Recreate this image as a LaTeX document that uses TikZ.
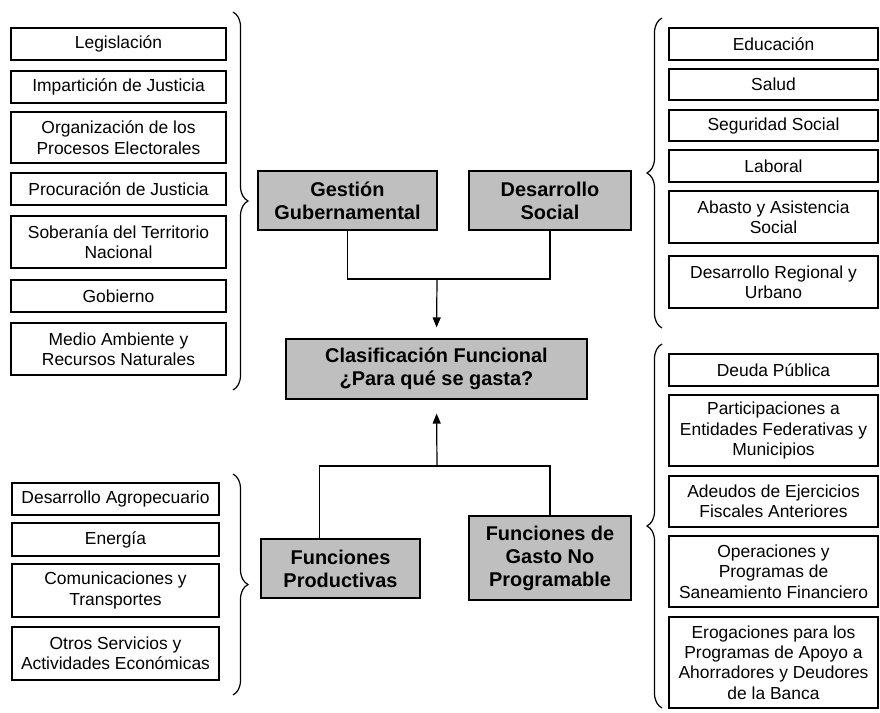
\documentclass[tikz,border=0pt]{standalone}
\usepackage{fontspec}
\setmainfont{Liberation Sans}
\usetikzlibrary{arrows.meta}
\usetikzlibrary{decorations.pathreplacing}

\begin{document}
\begin{tikzpicture}[x=1bp, y=-1bp, line width=1.2bp,
  item/.style={draw, fill=white, inner sep=0pt, align=center, font=\fontsize{17.5}{20.5}\selectfont},
  izq/.style={item, minimum width=215bp},
  izqb/.style={item, minimum width=207bp},
  der/.style={item, minimum width=209bp},
  rubro/.style={draw, fill=black!25, inner sep=0pt, align=center, font=\fontsize{20}{23}\selectfont\bfseries},
  llave/.style={decorate, decoration={brace, amplitude=15bp}}]
\useasboundingbox (0,0) rectangle (880,713);

\node (leg) at (118.5,44) [izq, minimum height=32bp] {Legislación};
\node (imp) at (118.5,87) [izq, minimum height=32bp] {Impartición de Justicia};
\node (org) at (118.5,137.5) [izq, minimum height=51bp] {Organización de los\\Procesos Electorales};
\node (pro) at (118.5,189) [izq, minimum height=32bp] {Procuración de Justicia};
\node (sob) at (118.5,242) [izq, minimum height=52bp] {Soberanía del Territorio\\Nacional};
\node (gob) at (118.5,296) [izq, minimum height=32bp] {Gobierno};
\node (med) at (118.5,349) [izq, minimum height=52bp] {Medio Ambiente y\\Recursos Naturales};
\draw[llave] (233,12) -- (233,390);

\node (edu) at (773.5,44) [der, minimum height=32bp] {Educación};
\node (sal) at (773.5,84.5) [der, minimum height=31bp] {Salud};
\node (seg) at (773.5,125.5) [der, minimum height=31bp] {Seguridad Social};
\node (lab) at (773.5,166) [der, minimum height=32bp] {Laboral};
\node (aba) at (773.5,217) [der, minimum height=52bp] {Abasto y Asistencia\\Social};
\node (dru) at (773.5,282) [der, minimum height=52bp] {Desarrollo Regional y\\Urbano};
\draw[llave] (662,328) -- (662,18);

\node (agr) at (115.5,499) [izqb, minimum height=32bp] {Desarrollo Agropecuario};
\node (ene) at (115.5,539.5) [izqb, minimum height=33bp] {Energía};
\node (com) at (115.5,590.5) [izqb, minimum height=53bp] {Comunicaciones y\\Transportes};
\node (otr) at (115.5,653.5) [izqb, minimum height=53bp] {Otros Servicios y\\Actividades Económicas};
\draw[llave] (233,474) -- (233,695);

\node (deu) at (773.5,370) [der, minimum height=32bp] {Deuda Pública};
\node (par) at (773.5,430.5) [der, minimum height=71bp] {Participaciones a\\Entidades Federativas y\\Municipios};
\node (ade) at (773.5,501.5) [der, minimum height=51bp] {Adeudos de Ejercicios\\Fiscales Anteriores};
\node (ope) at (773.5,571.5) [der, minimum height=71bp] {Operaciones y\\Programas de\\Saneamiento Financiero};
\node (ero) at (773.5,662.5) [der, minimum height=91bp] {Erogaciones para los\\Programas de Apoyo a\\Ahorradores y Deudores\\de la Banca};
\draw[llave] (662,708) -- (662,344);

\node (gg) at (347.5,200.5) [rubro, minimum width=179bp, minimum height=59bp] {Gestión\\Gubernamental};
\node (ds) at (550,200.5) [rubro, minimum width=162bp, minimum height=59bp] {Desarrollo\\Social};
\node (cf) at (436.5,369) [rubro, minimum width=301bp, minimum height=60bp] {Clasificación Funcional\\¿Para qué se gasta?};
\node (fp) at (340.5,568.5) [rubro, minimum width=159bp, minimum height=59bp] {Funciones\\Productivas};
\node (fg) at (550,558) [rubro, minimum width=162bp, minimum height=84bp] {Funciones de\\Gasto No\\Programable};

\coordinate (jt) at (437,279);
\coordinate (jb) at (437,466);
\draw (gg.south) |- (jt) -| (ds.south);
\draw[-{Triangle[length=10bp, width=8bp]}, shorten >=11bp] (jt) -- (cf.north);
\draw ([xshift=-21bp]fp.north) |- (jb) -| (fg.north);
\draw[-{Triangle[length=10bp, width=8bp]}, shorten >=14bp] (jb) -- (cf.south);
\end{tikzpicture}
\end{document}
